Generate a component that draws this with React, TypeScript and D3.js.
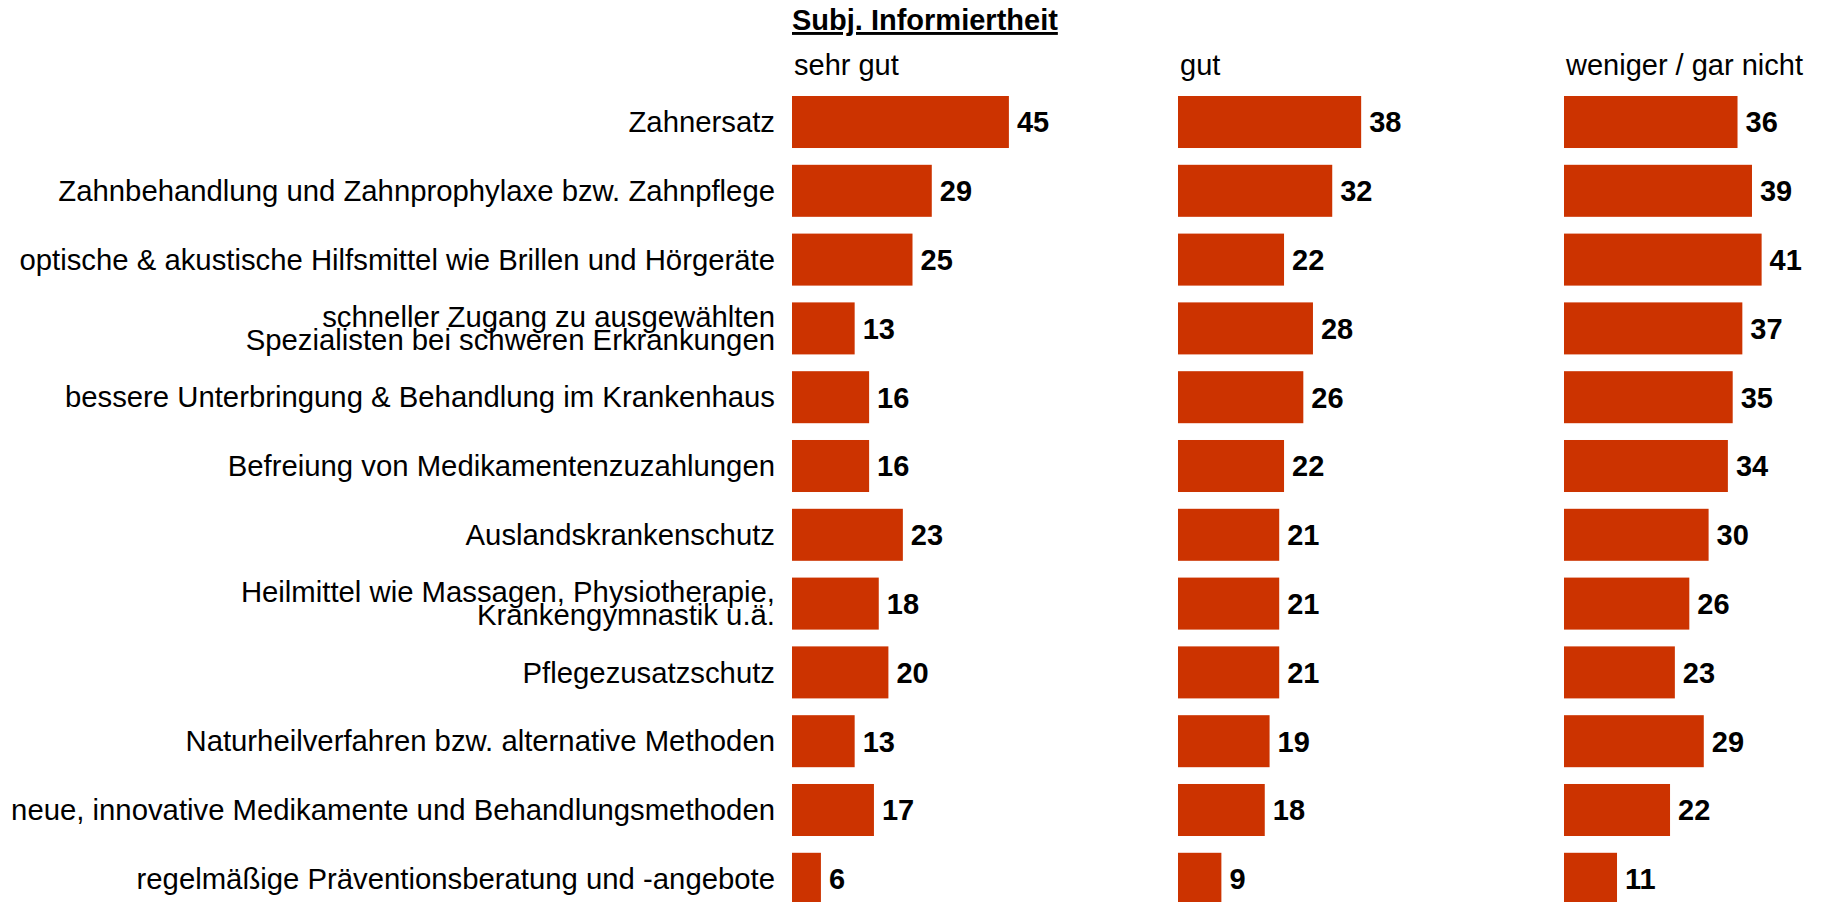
import * as d3 from "d3";
import { useEffect, useRef } from "react";

const categories = [
  "Zahnersatz",
  "Zahnbehandlung und Zahnprophylaxe bzw. Zahnpflege",
  "optische & akustische Hilfsmittel wie Brillen und Hörgeräte",
  "schneller Zugang zu ausgewählten\nSpezialisten bei schweren Erkrankungen",
  "bessere Unterbringung & Behandlung im Krankenhaus",
  "Befreiung von Medikamentenzuzahlungen",
  "Auslandskrankenschutz",
  "Heilmittel wie Massagen, Physiotherapie,\nKrankengymnastik u.ä.",
  "Pflegezusatzschutz",
  "Naturheilverfahren bzw. alternative Methoden",
  "neue, innovative Medikamente und Behandlungsmethoden",
  "regelmäßige Präventionsberatung und -angebote",
];

const seriesNames = ["sehr gut", "gut", "weniger / gar nicht"];

const sehrGut = [45, 29, 25, 13, 16, 16, 23, 18, 20, 13, 17, 6];
const gut = [38, 32, 22, 28, 26, 22, 21, 21, 21, 19, 18, 9];
const wenigerGarNicht = [36, 39, 41, 37, 35, 34, 30, 26, 23, 29, 22, 11];

const title = "Subj. Informiertheit";

function App() {
  const svgRef = useRef(null);

  useEffect(() => {
    const svg = d3.select(svgRef.current);
    svg.selectAll("*").remove();

    const width = 1825;
    const height = 902;
    const font = "Arial, 'Liberation Sans', sans-serif";
    const barColor = "#cc3300";

    svg.attr("width", width).attr("height", height);

    const series = [sehrGut, gut, wenigerGarNicht];

    // panel positions
    const panel = d3
      .scaleBand()
      .domain(seriesNames)
      .range([792, 792 + 3 * 386])
      .paddingInner(0);

    const y = d3
      .scaleBand()
      .domain(categories)
      .range([96, 904.8])
      .paddingInner(0.244)
      .paddingOuter(0);

    const x = d3.scaleLinear().domain([0, 10]).range([0, 48.2]);

    // title
    svg
      .append("text")
      .attr("x", panel(seriesNames[0]))
      .attr("y", 30)
      .attr("font-family", font)
      .attr("font-size", 29)
      .attr("font-weight", "bold")
      .attr("text-decoration", "underline")
      .attr("fill", "#000")
      .text(title);

    // category labels
    const labels = svg
      .append("g")
      .selectAll("text")
      .data(categories)
      .enter()
      .append("text")
      .attr("text-anchor", "end")
      .attr("font-family", font)
      .attr("font-size", 29.3)
      .attr("fill", "#000");

    labels.each(function (d) {
      const lines = d.split("\n");
      const cy = y(d) + y.bandwidth() / 2;
      const lh = 23;
      d3.select(this)
        .selectAll("tspan")
        .data(lines)
        .enter()
        .append("tspan")
        .attr("x", 775)
        .attr("y", (_, i) => cy + (i - (lines.length - 1) / 2) * lh)
        .attr("dy", "0.35em")
        .text(t => t);
    });

    seriesNames.forEach((name, si) => {
      const x0 = panel(name);
      const g = svg.append("g").attr("transform", `translate(${x0},0)`);

      g.append("text")
        .attr("x", 2)
        .attr("y", 75)
        .attr("font-family", font)
        .attr("font-size", 29)
        .attr("fill", "#000")
        .text(name);

      const vals = series[si];
      g.selectAll("rect")
        .data(vals)
        .enter()
        .append("rect")
        .attr("x", 0)
        .attr("y", (_, i) => y(categories[i]))
        .attr("width", d => x(d))
        .attr("height", y.bandwidth())
        .attr("fill", barColor);

      g.selectAll("text.val")
        .data(vals)
        .enter()
        .append("text")
        .attr("class", "val")
        .attr("x", d => x(d) + 8)
        .attr("y", (_, i) => y(categories[i]) + y.bandwidth() / 2)
        .attr("dy", "0.36em")
        .attr("font-family", font)
        .attr("font-size", 29)
        .attr("font-weight", "bold")
        .attr("fill", "#000")
        .text(d => d);
    });
  }, []);

  return (
    <svg
      ref={svgRef}
      style={{ position: "absolute", left: 0, top: 0, display: "block", background: "#fff" }}
    />
  );
}

export default App;
